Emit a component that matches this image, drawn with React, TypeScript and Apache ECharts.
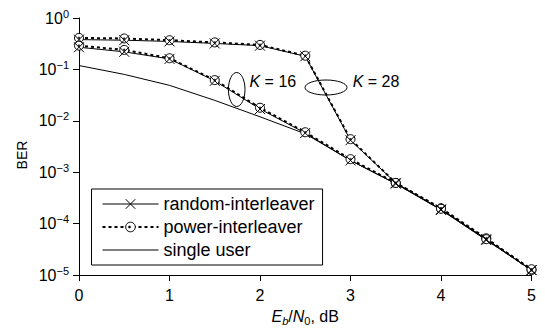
import React, { useEffect, useRef } from 'react';
import * as echarts from 'echarts';

const snr = [0, 0.5, 1, 1.5, 2, 2.5, 3, 3.5, 4, 4.5, 5];
const randomK28 = [0.38, 0.37, 0.35, 0.32, 0.29, 0.18, 0.0042, 6.2e-4, 1.9e-4, 5.0e-5, 1.25e-5];
const powerK28 = [0.41, 0.4, 0.37, 0.335, 0.3, 0.185, 0.0044, 6.2e-4, 2.0e-4, 5.2e-5, 1.25e-5];
const randomK16 = [0.27, 0.22, 0.16, 0.06, 0.017, 0.0058, 0.0017, 6.0e-4, 1.85e-4, 4.8e-5, 1.25e-5];
const powerK16 = [0.29, 0.24, 0.165, 0.062, 0.018, 0.006, 0.0018, 6.2e-4, 1.95e-4, 5.0e-5, 1.3e-5];
const singleUser = [0.119, 0.08, 0.049, 0.025, 0.012, 0.0056, 0.0017, 6.0e-4, 1.9e-4, 5.0e-5, 1.25e-5];

const legendNames = ['random-interleaver', 'power-interleaver', 'single user'];
const annotations = ['K = 16', 'K = 28'];

const FONT = '"Liberation Sans", Arial, Helvetica, sans-serif';
const CROSS = 'path://M0,0L10,10M10,0L0,10';

const pair = (ys: number[]) => snr.map((x, i) => [x, ys[i]]);

export default function App() {
  const ref = useRef<HTMLDivElement>(null);
  useEffect(() => {
    document.body.style.margin = '0';
    const chart = echarts.init(ref.current!, null, { renderer: 'svg' });
    const powerSeries = (ys: number[]) => ({
      name: legendNames[1],
      type: 'line',
      data: pair(ys),
      symbol: 'circle',
      symbolSize: 9,
      lineStyle: { color: '#000', width: 2, type: [3, 3] },
      itemStyle: { color: '#fff', borderColor: '#000', borderWidth: 1 },
    });
    const randomSeries = (ys: number[]) => ({
      name: legendNames[0],
      type: 'line',
      data: pair(ys),
      symbol: CROSS,
      symbolSize: 10,
      lineStyle: { color: '#000', width: 1 },
      itemStyle: { color: '#000', borderColor: '#000', borderWidth: 1 },
    });
    const dotSeries = (ys: number[]) => ({
      name: 'dot',
      type: 'scatter',
      data: pair(ys),
      symbol: 'circle',
      symbolSize: 2.5,
      itemStyle: { color: '#000' },
      silent: true,
      z: 5,
    });
    chart.setOption({
      animation: false,
      grid: { left: 79, right: 13.5, top: 18, bottom: 53 },
      xAxis: {
        type: 'value',
        min: 0,
        max: 5,
        interval: 1,
        axisLine: { onZero: false, lineStyle: { color: '#000', width: 1 } },
        axisTick: { length: 6, lineStyle: { color: '#000', width: 1 } },
        splitLine: { show: false },
        axisLabel: { fontSize: 16, color: '#000', margin: 12, fontFamily: FONT },
        name: '{i|E}{si|b}{n|/}{i|N}{s|0}{n|, dB}',
        nameLocation: 'middle',
        nameGap: 30,
        nameTextStyle: {
          color: '#000',
          rich: {
            i: { fontSize: 16, fontStyle: 'italic', fontFamily: FONT, color: '#000' },
            n: { fontSize: 16, fontFamily: FONT, color: '#000' },
            s: { fontSize: 11, fontFamily: FONT, color: '#000', padding: [9, 0, 0, 0] },
            si: { fontSize: 11, fontStyle: 'italic', fontFamily: FONT, color: '#000', padding: [9, 0, 0, 0] },
          },
        },
      },
      yAxis: {
        type: 'log',
        logBase: 10,
        min: 1e-5,
        max: 1,
        axisLine: { show: true, lineStyle: { color: '#000', width: 1 } },
        axisTick: { show: true, length: 6, lineStyle: { color: '#000', width: 1 } },
        splitLine: { show: false },
        minorTick: { show: false },
        axisLabel: {
          margin: 10,
          formatter: (v: number) => {
            const e = Math.round(Math.log10(v));
            return `{b|10}{s|${e < 0 ? '\u2212' + -e : e}}`;
          },
          rich: {
            b: { fontSize: 16, fontFamily: FONT, color: '#000' },
            s: { fontSize: 11, fontFamily: FONT, color: '#000', padding: [0, 0, 9, 0] },
          },
        },
      },
      legend: {
        orient: 'vertical',
        left: 91.5,
        top: 189,
        padding: [6, 8, 6, 10],
        itemGap: 5,
        itemWidth: 56,
        itemHeight: 12,
        borderColor: '#000',
        borderWidth: 1,
        borderRadius: 0,
        selectedMode: false,
        textStyle: { fontSize: 18, fontFamily: FONT, color: '#000' },
        data: [
          { name: legendNames[0], lineStyle: { width: 1 }, itemStyle: { borderWidth: 1 } },
          { name: legendNames[1], lineStyle: { width: 2 }, itemStyle: { borderWidth: 1 } },
          { name: legendNames[2], lineStyle: { width: 1 }, itemStyle: { opacity: 0 } },
        ],
      },
      graphic: [
        { type: 'ellipse', shape: { cx: 236.7, cy: 89.5, rx: 8.3, ry: 17 }, style: { fill: 'none', stroke: '#000', lineWidth: 1 } },
        { type: 'ellipse', shape: { cx: 326, cy: 87.5, rx: 21, ry: 7.5 }, style: { fill: 'none', stroke: '#000', lineWidth: 1 } },
        {
          type: 'text', x: 249.5, y: 81,
          style: {
            text: `{i|K}{n|${annotations[0].slice(1)}}`,
            verticalAlign: 'middle',
            rich: {
              i: { fontSize: 16, fontStyle: 'italic', fontFamily: FONT, fill: '#000' },
              n: { fontSize: 16, fontFamily: FONT, fill: '#000' },
            },
          },
        },
        {
          type: 'text', x: 352.7, y: 81,
          style: {
            text: `{i|K}{n|${annotations[1].slice(1)}}`,
            verticalAlign: 'middle',
            rich: {
              i: { fontSize: 16, fontStyle: 'italic', fontFamily: FONT, fill: '#000' },
              n: { fontSize: 16, fontFamily: FONT, fill: '#000' },
            },
          },
        },
        {
          type: 'text', x: 22, y: 155, rotation: Math.PI / 2,
          style: { text: 'BER', fontSize: 14, fontFamily: FONT, fill: '#000', align: 'center', verticalAlign: 'middle' },
        },
        { type: 'circle', shape: { cx: 129.5, cy: 227, r: 1.3 }, style: { fill: '#000' }, z: 200 },
      ],
      series: [
        { name: legendNames[2], type: 'line', data: pair(singleUser), symbol: 'none', lineStyle: { color: '#000', width: 1 }, itemStyle: { color: '#000' } },
        powerSeries(powerK28),
        powerSeries(powerK16),
        randomSeries(randomK28),
        randomSeries(randomK16),
        dotSeries(powerK28),
        dotSeries(powerK16),
      ],
    });
    return () => chart.dispose();
  }, []);
  return <div ref={ref} style={{ width: 545, height: 331 }} />;
}
